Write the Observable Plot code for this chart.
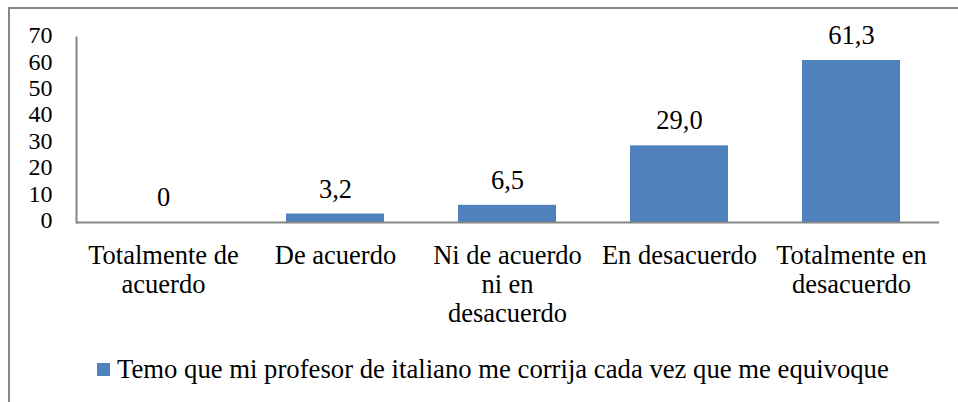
<!DOCTYPE html>
<html>
<head>
<meta charset="utf-8">
<script src="https://cdn.jsdelivr.net/npm/d3@7"></script>
<script src="https://cdn.jsdelivr.net/npm/@observablehq/plot@0.6"></script>
<style>
  html, body { margin: 0; padding: 0; background: #fff; }
  body { width: 958px; height: 402px; overflow: hidden; position: relative; font-family: 'Liberation Serif', 'Times New Roman', 'DejaVu Serif', serif; }
  #border { position: absolute; left: 8px; top: 7px; width: 960px; height: 400px; border-left: 2px solid #868686; border-top: 2px solid #868686; }
  #chart { position: absolute; left: 0; top: 0; }
  #legend { position: absolute; left: 97px; top: 354px; display: flex; align-items: center; font-size: 26.7px; color: #000; white-space: nowrap; font-family: 'Liberation Serif', 'Times New Roman', 'DejaVu Serif', serif; }
  #legend .sw { width: 13px; height: 13px; background: #4F81BD; margin-right: 7px; }
  svg text { font-family: 'Liberation Serif', 'Times New Roman', 'DejaVu Serif', serif !important; }
</style>
</head>
<body>
<div id="border"></div>
<div id="chart"></div>
<div id="legend"><span class="sw"></span><span id="legtext"></span></div>
<script>
const categories = ["Totalmente de\nacuerdo", "De acuerdo", "Ni de acuerdo\nni en\ndesacuerdo", "En desacuerdo", "Totalmente en\ndesacuerdo"];
const values = [0, 3.2, 6.5, 29.0, 61.3];
const valueLabels = ["0", "3,2", "6,5", "29,0", "61,3"];
const yTicks = [0, 10, 20, 30, 40, 50, 60, 70];
const seriesName = "Temo que mi profesor de italiano me corrija cada vez que me equivoque";

const data = categories.map((c, i) => ({cat: c, value: values[i], label: valueLabels[i]}));
const font = "'Liberation Serif', 'Times New Roman', 'DejaVu Serif', serif";

const chart = Plot.plot({
  width: 958,
  height: 345,
  marginLeft: 76,
  marginRight: 19,
  marginTop: 37,
  marginBottom: 123,
  style: {fontFamily: font, fontSize: "26.5px", color: "#000", background: "transparent", overflow: "visible"},
  x: {domain: categories, paddingInner: 0.43, paddingOuter: 0.215, label: null},
  y: {domain: [0, 70], label: null},
  marks: [
    Plot.barY(data, {x: "cat", y: "value", fill: "#4F81BD"}),
    Plot.ruleY([0], {stroke: "#868686", strokeWidth: 2}),
    Plot.frame({anchor: "left", stroke: "#868686", strokeWidth: 2}),
    Plot.axisY({ticks: yTicks, tickSize: 0, tickPadding: 24, dy: -2, fontSize: 24, fill: "#000", label: null}),
    Plot.axisX({tickSize: 0, tickPadding: 21, fontSize: 26.5, fill: "#000", lineHeight: 1.09, label: null}),
    Plot.text(data, {x: "cat", y: "value", text: "label", dy: -25, fontSize: 26.5, fill: "#000", lineAnchor: "middle"})
  ]
});
document.getElementById("chart").appendChild(chart);
document.getElementById("legtext").textContent = seriesName;
</script>
</body>
</html>
